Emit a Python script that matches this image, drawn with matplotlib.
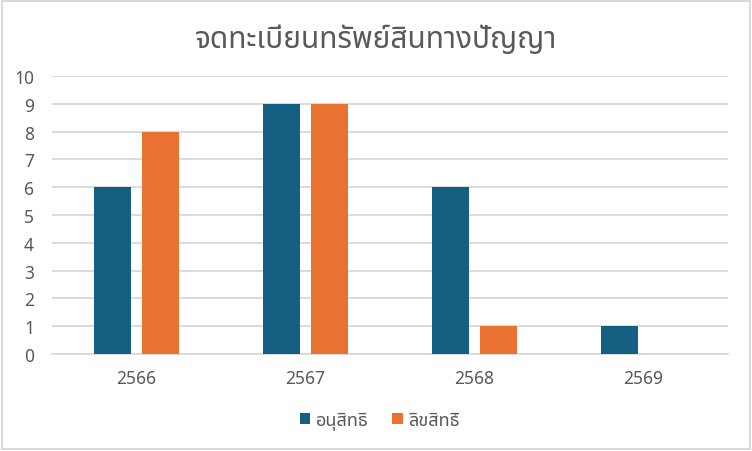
import matplotlib
matplotlib.use('Agg')
import matplotlib.pyplot as plt
from matplotlib.patches import Rectangle
import numpy as np

plt.rcParams['font.family'] = ['Noto Sans Thai', 'Sarabun', 'DejaVu Sans']

years = ['2566', '2567', '2568', '2569']
series_names = ['อนุสิทธิ', 'ลิขสิทธิ์']
petty_patent = [6, 9, 6, 1]
copyright_ = [8, 9, 1, 0]
colors = ['#156082', '#E97132']

fig = plt.figure(figsize=(7.52, 4.52), dpi=100)
fig.patches.append(Rectangle((0.002, 0.004), 0.995, 0.992, transform=fig.transFigure,
                             fill=False, edgecolor='#D9D9D9', linewidth=1.5))

ax = fig.add_axes([52 / 752, (452 - 355) / 452, 676 / 752, 278 / 452])
x = np.arange(len(years))
w = 0.223
off = 0.142
ax.bar(x - off, petty_patent, w, color=colors[0], label=series_names[0], zorder=3)
ax.bar(x + off, copyright_, w, color=colors[1], label=series_names[1], zorder=3)

ax.set_xlim(-0.5, 3.5)
ax.set_ylim(0, 10)
ax.set_yticks(range(0, 11))
ax.set_xticks(x)
ax.set_xticklabels(years)
ax.grid(axis='y', color='#D9D9D9', linewidth=1.3, zorder=0)
for s in ['top', 'right', 'left']:
    ax.spines[s].set_visible(False)
ax.spines['bottom'].set_color('#D9D9D9')
ax.spines['bottom'].set_linewidth(1.3)
ax.tick_params(length=0, colors='#595959', labelsize=12.5)
ax.tick_params(axis='x', pad=11)
ax.tick_params(axis='y', pad=13)

fig.text(0.5, 0.912, 'จดทะเบียนทรัพย์สินทางปัญญา', ha='center', va='center',
         fontsize=21.5, color='#595959')

fig.legend(loc='center', bbox_to_anchor=(0.505, 0.068), ncol=2, frameon=False,
           fontsize=13, labelcolor='#595959', handlelength=0.6, handleheight=0.6,
           handletextpad=0.3, columnspacing=1.3)

fig.savefig('out.png')
